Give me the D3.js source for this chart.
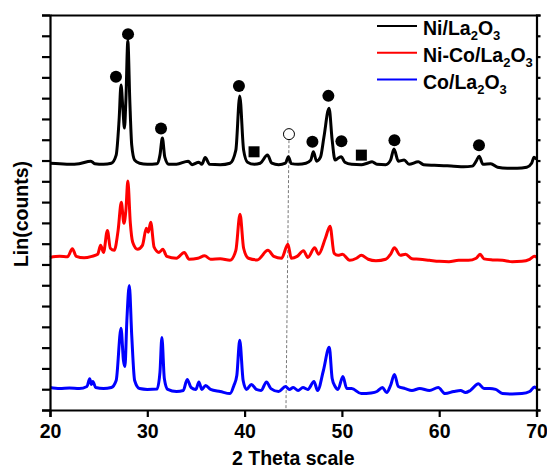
<!DOCTYPE html>
<html>
<head>
	<meta charset="utf-8">
	<title>XRD patterns</title>
	<style>
		body { margin: 0; background: #fff; }
		svg text { font-family: "Liberation Sans", Arial, sans-serif; font-weight: bold; }
	</style>
</head>
<body>
	<div id="chart"></div>
	<script src="https://cdn.jsdelivr.net/npm/d3@7/dist/d3.min.js"></script>
	<script>
		// 2theta, counts
		var niData = [
			[20, 1187], [21, 1185], [22, 1182], [23, 1185], [24.2, 1197], [24.6, 1185], [25.5, 1182], [26.3, 1187],
			[26.8, 1226], [27.1, 1394], [27.3, 1563], [27.5, 1442], [27.65, 1356], [27.8, 1491], [28.0, 1775],
			[28.2, 1491], [28.4, 1274], [28.7, 1202], [29.2, 1187], [30, 1182], [31, 1185], [31.3, 1226],
			[31.55, 1308], [31.8, 1216], [32.2, 1182], [33, 1182], [34.2, 1197], [34.6, 1180], [35.3, 1192],
			[35.6, 1182], [35.95, 1214], [36.4, 1182], [37.5, 1180], [38.5, 1187], [39.1, 1250], [39.5, 1510],
			[39.9, 1250], [40.3, 1192], [41, 1182], [41.6, 1187], [42.35, 1226], [42.8, 1187], [43.5, 1180],
			[44.2, 1187], [44.5, 1218], [44.8, 1185], [45.5, 1182], [46.3, 1187], [46.8, 1202], [47.07, 1242],
			[47.4, 1197], [47.8, 1216], [48.15, 1312], [48.68, 1452], [49.0, 1298], [49.3, 1202], [49.6, 1211],
			[49.95, 1218], [50.3, 1192], [51, 1182], [52, 1180], [52.6, 1187], [53.1, 1194], [53.6, 1182],
			[54.5, 1180], [55.0, 1202], [55.35, 1255], [55.8, 1197], [56.4, 1202], [56.9, 1182], [57.85, 1194],
			[58.4, 1180], [59.5, 1177], [60.5, 1175], [61.5, 1173], [62.5, 1170], [63.4, 1173], [63.8, 1197],
			[64.1, 1221], [64.5, 1182], [65.3, 1185], [66, 1168], [67, 1163], [68, 1163], [69, 1168],
			[69.5, 1187], [69.75, 1216], [70, 1206]
		];
		var niCoData = [
			[20, 734], [21, 739], [21.8, 737], [22.3, 776], [22.7, 739], [23.5, 732], [24.3, 739], [24.9, 749],
			[25.2, 792], [25.5, 758], [25.9, 864], [26.2, 778], [26.6, 768], [27.0, 864], [27.33, 999],
			[27.6, 898], [27.8, 961], [28.0, 1101], [28.25, 903], [28.5, 807], [29.0, 773], [29.5, 792],
			[29.9, 874], [30.1, 855], [30.35, 903], [30.7, 783], [31.2, 758], [31.6, 773], [32.0, 739],
			[33, 730], [33.8, 758], [34.3, 725], [35.2, 730], [35.9, 742], [36.5, 725], [37.5, 727], [38.5, 720],
			[39.1, 768], [39.53, 942], [39.9, 778], [40.4, 730], [41.3, 722], [42.4, 768], [43.0, 739],
			[43.8, 730], [44.45, 797], [44.8, 730], [45.4, 739], [46.05, 766], [46.5, 734], [47.2, 780],
			[47.6, 749], [48.3, 826], [48.78, 884], [49.2, 754], [49.6, 744], [50.05, 749], [50.8, 720],
			[51.5, 730], [52.0, 744], [52.7, 725], [53.5, 718], [54.5, 725], [55.0, 749], [55.4, 780],
			[56.0, 744], [56.55, 749], [57.2, 727], [58, 725], [59, 720], [60, 715], [61, 713], [62, 720],
			[63, 720], [63.8, 730], [64.2, 749], [64.6, 727], [65.5, 722], [66.5, 720], [67.5, 713], [68.5, 715],
			[69.3, 725], [69.8, 739], [70, 734]
		];
		var coData = [
			[20, 108], [21, 103], [22, 106], [23, 103], [23.8, 113], [24.08, 150], [24.25, 123], [24.4, 137],
			[24.7, 108], [25.5, 103], [26.3, 108], [26.8, 142], [27.3, 393], [27.55, 238], [27.7, 209],
			[27.9, 431], [28.15, 599], [28.4, 359], [28.7, 142], [29.2, 103], [30, 99], [31, 101], [31.3, 181],
			[31.5, 349], [31.75, 152], [32.1, 99], [33, 89], [33.7, 94], [34.1, 147], [34.5, 108], [35.0, 99],
			[35.3, 135], [35.6, 99], [36.0, 118], [36.5, 99], [37.5, 89], [38.5, 79], [38.9, 118], [39.2, 166],
			[39.5, 335], [39.85, 142], [40.2, 99], [40.7, 123], [41.2, 99], [41.7, 94], [42.25, 135], [42.7, 103],
			[43.5, 89], [44.2, 113], [44.6, 99], [45.0, 108], [45.5, 94], [46.0, 108], [46.5, 99], [47.13, 137],
			[47.5, 94], [48.1, 190], [48.7, 302], [49.0, 152], [49.3, 113], [49.6, 99], [50.1, 161], [50.5, 103],
			[51, 103], [52, 79], [53, 82], [53.6, 89], [54.16, 108], [54.6, 84], [55.0, 118], [55.4, 171],
			[55.8, 113], [56.5, 103], [57.2, 94], [58, 103], [59, 94], [59.9, 108], [60.6, 79], [61.5, 89],
			[62.2, 94], [62.7, 84], [63.2, 94], [64.03, 126], [64.6, 103], [65.2, 103], [65.8, 99], [66.5, 79],
			[67.5, 77], [68.5, 79], [69.3, 89], [69.8, 111], [70, 103]
		];

		var seriesNames = ["Ni/La2O3", "Ni-Co/La2O3", "Co/La2O3"];
		var seriesColors = ["#000000", "#ff0000", "#0000ff"];

		// phase markers on the Ni/La2O3 pattern
		var filledCircles = [[26.78, 1603], [28.02, 1808], [31.41, 1354], [39.42, 1559], [46.97, 1290],
			[48.61, 1511], [49.95, 1293], [55.40, 1298], [64.09, 1274]];
		var openCircles = [[44.56, 1327]];
		var squares = [[40.97, 1242], [52.0, 1226]];
		var guideLine = [[44.56, 1298], [44.25, 0]];

		var xTicks = [20, 30, 40, 50, 60, 70];

		var width = 547, height = 470;
		var margin = { top: 15, right: 10, bottom: 60, left: 50 };

		var svg = d3.select("#chart").append("svg")
			.attr("width", width)
			.attr("height", height);

		var x = d3.scaleLinear().domain([20, 70]).range([margin.left, width - margin.right - 0.5]);
		var y = d3.scaleLinear().domain([0, 1900]).range([height - margin.bottom, margin.top]);

		var line = d3.line()
			.x(function (d) { return x(d[0]); })
			.y(function (d) { return y(d[1]); });

		var smooth = d3.line()
			.curve(d3.curveMonotoneX)
			.x(function (d) { return x(d[0]); })
			.y(function (d) { return y(d[1]); });

		// dashed guide
		svg.append("path")
			.attr("d", line(guideLine))
			.attr("fill", "none")
			.attr("stroke", "#777")
			.attr("stroke-width", 1)
			.attr("stroke-dasharray", "3,2");

		[niData, niCoData, coData].forEach(function (data, i) {
			svg.append("path")
				.attr("d", smooth(data))
				.attr("fill", "none")
				.attr("stroke", seriesColors[i])
				.attr("stroke-width", 3)
				.attr("stroke-linejoin", "round");
		});

		svg.selectAll("circle.filled").data(filledCircles).enter().append("circle")
			.attr("class", "filled")
			.attr("cx", function (d) { return x(d[0]); })
			.attr("cy", function (d) { return y(d[1]); })
			.attr("r", 6)
			.attr("fill", "#000");

		svg.selectAll("circle.open").data(openCircles).enter().append("circle")
			.attr("class", "open")
			.attr("cx", function (d) { return x(d[0]); })
			.attr("cy", function (d) { return y(d[1]); })
			.attr("r", 5.5)
			.attr("fill", "#fff")
			.attr("stroke", "#000")
			.attr("stroke-width", 1);

		svg.selectAll("rect.sq").data(squares).enter().append("rect")
			.attr("class", "sq")
			.attr("x", function (d) { return x(d[0]) - 5.5; })
			.attr("y", function (d) { return y(d[1]) - 5.5; })
			.attr("width", 11)
			.attr("height", 11)
			.attr("fill", "#000");

		// axes
		var yTicks = d3.range(0, 1901, 100);

		var xAxis = svg.append("g")
			.attr("transform", "translate(0," + y(0) + ")")
			.call(d3.axisBottom(x).tickValues(xTicks).tickSize(7).tickPadding(7).tickFormat(d3.format("d")));
		xAxis.selectAll("text").attr("font-size", 19.5).attr("fill", "#000");

		svg.append("g")
			.attr("transform", "translate(" + x(20) + ",0)")
			.call(d3.axisLeft(y).tickValues(yTicks).tickSize(8).tickFormat(""));

		svg.append("g")
			.attr("transform", "translate(" + x(70) + ",0)")
			.call(d3.axisRight(y).tickValues(yTicks).tickSize(4).tickFormat(""));

		svg.append("g")
			.attr("transform", "translate(0," + y(1900) + ")")
			.call(d3.axisTop(x).tickValues([]).tickSizeOuter(0));

		svg.selectAll(".domain, .tick line")
			.attr("stroke", "#000")
			.attr("stroke-width", 2.2);

		svg.append("text")
			.attr("x", (x(20) + x(70)) / 2)
			.attr("y", 465)
			.attr("text-anchor", "middle")
			.attr("font-size", 19.5)
			.text("2 Theta scale");

		svg.append("text")
			.attr("transform", "translate(28,214) rotate(-90)")
			.attr("text-anchor", "middle")
			.attr("font-size", 19.5)
			.text("Lin(counts)");

		// legend
		var legend = svg.append("g").attr("transform", "translate(377,26)");
		seriesNames.forEach(function (name, i) {
			var row = legend.append("g").attr("transform", "translate(0," + (i * 26.8) + ")");
			row.append("line")
				.attr("x1", 0).attr("x2", 40)
				.attr("stroke", seriesColors[i])
				.attr("stroke-width", 2);
			var t = row.append("text")
				.attr("x", 46)
				.attr("y", 9)
				.attr("font-size", 19.5);
			var parts = name.match(/[A-Za-z\-\/]+|\d/g);
			parts.forEach(function (p) {
				if (/\d/.test(p)) {
					t.append("tspan").attr("dy", 5).attr("font-size", 13).text(p);
				} else {
					var ts = t.append("tspan").text(p);
					if (t.selectAll("tspan").size() > 1) ts.attr("dy", -5);
				}
			});
		});
	</script>
</body>
</html>
